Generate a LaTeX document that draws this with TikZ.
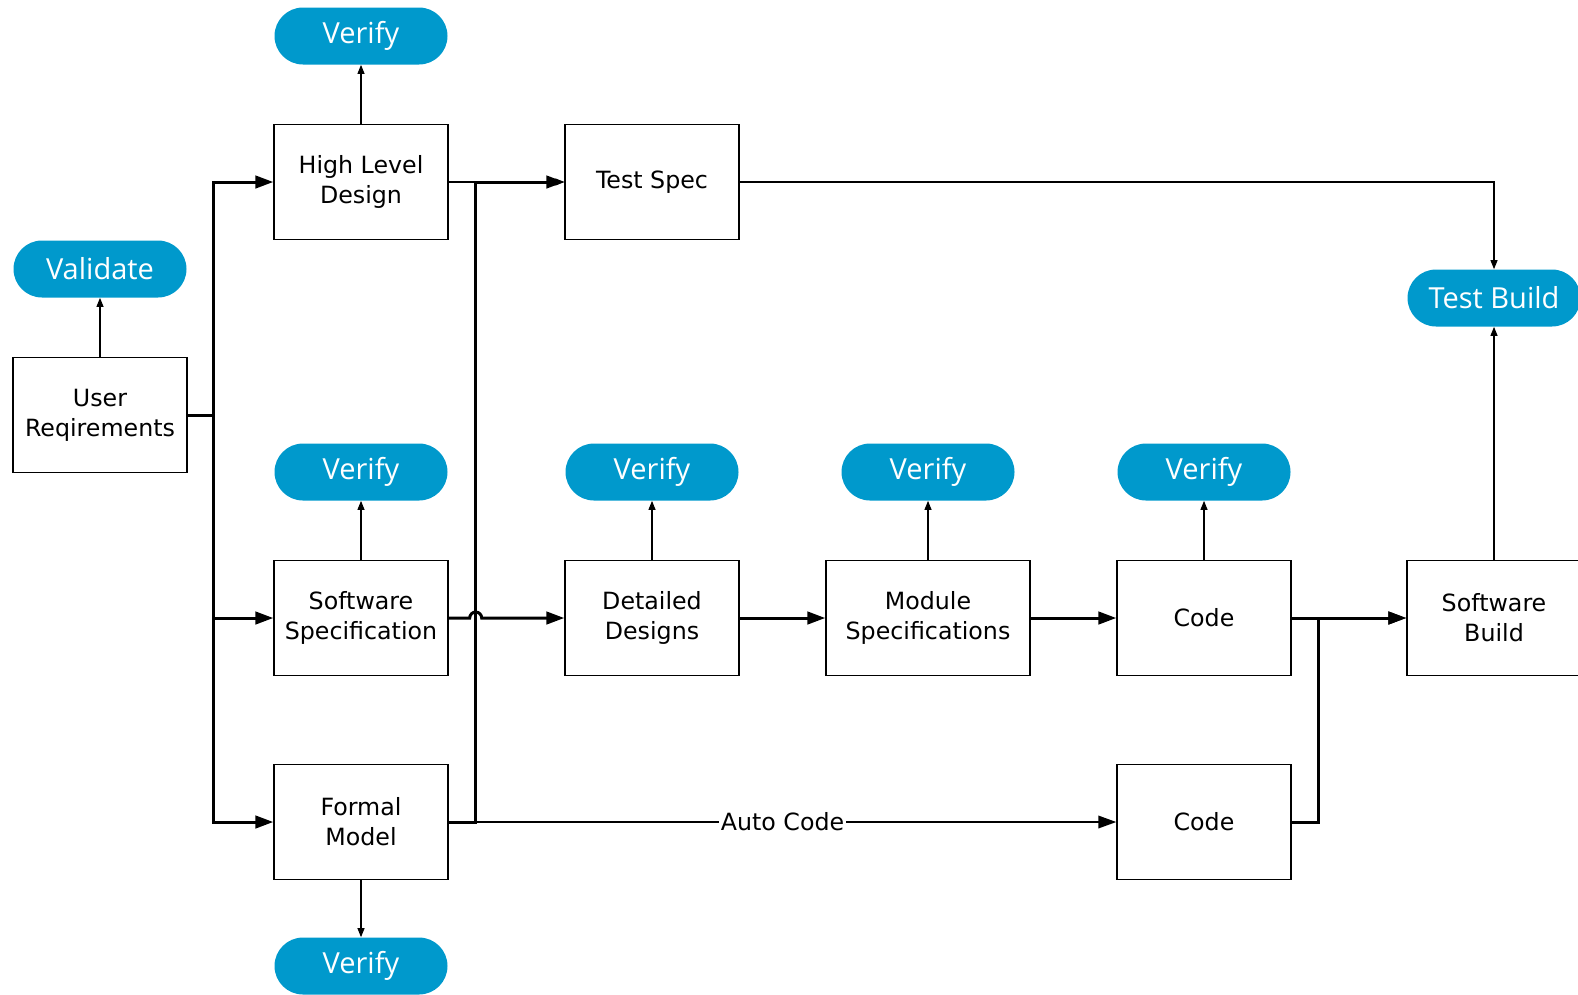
\documentclass[tikz,border=0pt]{standalone}
\usepackage{fontspec}
\setmainfont{DejaVu Sans}
\newfontfamily\pillfont{Open Sans}
\usetikzlibrary{arrows.meta}
\definecolor{pillblue}{RGB}{0,153,204}

\begin{document}
\begin{tikzpicture}[
    box/.style={
        draw=black,
        line width=0.8pt,
        minimum width=3.48cm,
        minimum height=2.3cm,
        align=center,
        font=\fontsize{13.5}{17}\selectfont
    },
    pill/.style={
        fill=pillblue,
        rounded corners=0.57cm,
        minimum width=3.46cm,
        minimum height=1.14cm,
        text=white,
        font=\pillfont\fontsize{16.5}{19}\selectfont
    },
    thin/.style={-{Triangle[length=0.18cm,width=0.14cm]}, line width=0.6pt},
    bus/.style={-{Triangle[length=0.36cm,width=0.25cm]}, line width=1.7pt},
    link/.style={-{Triangle[length=0.36cm,width=0.25cm]}, line width=1.1pt}
]
    \useasboundingbox (0,0) rectangle (31.56,-19.88);

    % left column
    \node[pill] (validate) at (2.0,-5.38) {Validate};
    \node[box] (userreq) at (2.0,-8.3) {User\\Reqirements};

    % design column
    \node[pill] (verifyhld) at (7.22,-0.72) {Verify};
    \node[box] (hld) at (7.22,-3.64) {High Level\\Design};
    \node[pill] (verifyss) at (7.22,-9.44) {Verify};
    \node[box] (swspec) at (7.22,-12.36) {Software\\Specification};
    \node[box] (formal) at (7.22,-16.44) {Formal\\Model};
    \node[pill] (verifyfm) at (7.22,-19.32) {Verify};

    % middle row
    \node[box] (testspec) at (13.04,-3.64) {Test Spec};
    \node[pill] (verifydd) at (13.04,-9.44) {Verify};
    \node[box] (detailed) at (13.04,-12.36) {Detailed\\Designs};
    \node[pill] (verifyms) at (18.56,-9.44) {Verify};
    \node[box, minimum width=4.08cm] (modspec) at (18.56,-12.36) {Module\\Specifications};
    \node[pill] (verifycode) at (24.08,-9.44) {Verify};
    \node[box] (code) at (24.08,-12.36) {Code};
    \node[box] (autocode) at (24.08,-16.44) {Code};

    % build
    \node[pill] (testbuild) at (29.88,-5.96) {Test Build};
    \node[box] (swbuild) at (29.88,-12.36) {Software\\Build};

    % verification links
    \draw[thin] (userreq) -- (validate);
    \draw[thin] (hld) -- (verifyhld);
    \draw[thin] (swspec) -- (verifyss);
    \draw[thin] (formal) -- (verifyfm);
    \draw[thin] (detailed) -- (verifydd);
    \draw[thin] (modspec) -- (verifyms);
    \draw[thin] (code) -- (verifycode);
    \draw[thin] (swbuild) -- (testbuild);
    \draw[thin] (testspec.east) -| (testbuild.north);

    % requirements split
    \draw[bus] (userreq.east) -- ++(0.52,0) |- (hld.west);
    \draw[bus] (userreq.east) -- ++(0.52,0) |- (swspec.west);
    \draw[bus] (userreq.east) -- ++(0.52,0) |- (formal.west);

    % test spec inputs
    \draw[thin] (hld) -- (testspec);
    \draw[bus] (formal.east) -- ++(0.54,0) |- (testspec.west);
    \draw[link] (formal) -- node[fill=white, inner sep=1pt, font=\fontsize{13.5}{17}\selectfont] {Auto Code} (autocode);

    % main chain
    \draw[bus] (swspec.east) -- ++(0.42,0)
        arc[start angle=180, end angle=0, radius=0.12] -- (detailed.west);
    \draw[bus] (detailed) -- (modspec);
    \draw[bus] (modspec) -- (code);
    \draw[bus] (code) -- (swbuild);
    \draw[bus] (autocode.east) -- ++(0.54,0) |- (swbuild.west);
\end{tikzpicture}
\end{document}
